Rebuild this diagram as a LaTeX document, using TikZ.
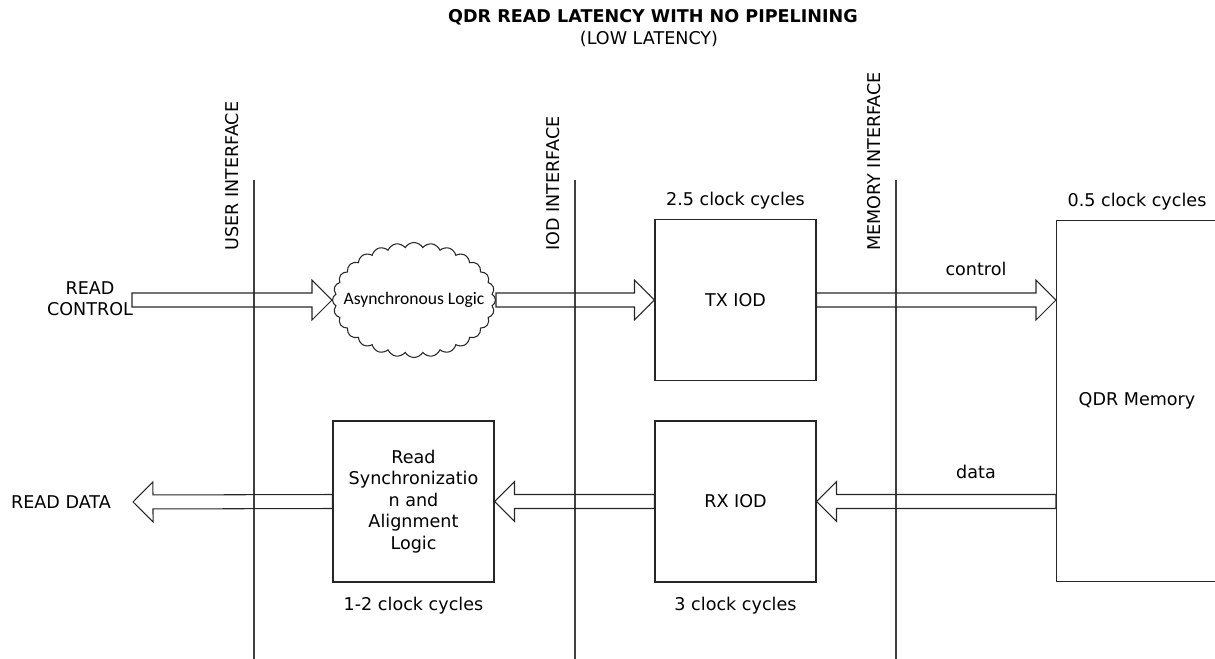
\documentclass[tikz,border=0pt]{standalone}
\usepackage{fontspec}
\setmainfont{DejaVu Sans}
\newfontfamily\cloudfont{Carlito}
\usetikzlibrary{positioning,calc,shapes.symbols}
\tikzset{fat/.style={draw=black!85,line width=0.6pt,line join=miter}}
\newcommand{\fatarr}[2]{%
  \coordinate (hb) at ($(#2)!0.4cm!(#1)$);
  \draw[fat] ($(#1)!0.14cm!90:(#2)$) -- ($(hb)!0.14cm!90:(#2)$) -- ($(hb)!0.4cm!90:(#2)$) -- (#2)
    -- ($(hb)!0.4cm!-90:(#2)$) -- ($(hb)!0.14cm!-90:(#2)$) -- ($(#1)!0.14cm!-90:(#2)$) -- cycle;}

\begin{document}
\begin{tikzpicture}[x=0.02cm,y=-0.02cm,font=\fontsize{10}{12.2}\selectfont]
\tikzstyle{blk}=[draw=black!85,line width=0.6pt,minimum width=3.22cm,minimum height=3.22cm,align=center,inner sep=2pt]
\tikzstyle{side}=[draw=black!75,line width=0.8pt]
\tikzstyle{iface}=[rotate=90,anchor=west,inner sep=0pt]
\tikzstyle{cld}=[cloud,draw=black!85,line width=0.6pt,cloud puffs=28,cloud puff arc=120,cloud ignores aspect,minimum width=3.26cm,minimum height=2.3cm,inner xsep=-0.35cm,inner ysep=0pt]

   \useasboundingbox (0,0) rectangle (1215,659);

   % title
   \node[font=\fontsize{10}{12}\selectfont\bfseries] (T) at (653,17) {QDR READ LATENCY WITH NO PIPELINING};
   \node (T2) at (649,39) {(LOW LATENCY)};

   % interfaces
   \foreach \x/\n/\t in {254/U/USER INTERFACE,575/I/IOD INTERFACE,896/M/MEMORY INTERFACE}{
     \coordinate (\n1) at (\x,180);
     \coordinate (\n2) at (\x,659);
     \draw[side] (\n1) -- (\n2);
     \node[iface] (\n L) at (\x-22,251) {\t};
   }

   % blocks
   \path (90,299) node[align=center] (RC) {READ\\CONTROL}
         (414,300) node[cld] (AL) {\cloudfont\fontsize{10}{12}\selectfont Asynchronous Logic}
         (735.5,300) node[blk] (TX) {TX IOD}
         (1137,401) node[blk,minimum height=7.24cm] (QDR) {QDR Memory}
         (735.5,501.5) node[blk] (RX) {RX IOD}
         (413.5,501.5) node[blk] (SY) {Read\\Synchronizatio\\n and\\Alignment\\Logic}
         (61,502) node (RD) {READ DATA};

   \node[above=2pt of TX] (TXc) {2.5 clock cycles};
   \node[above=2pt of QDR] (QDRc) {0.5 clock cycles};
   \node[below=5pt of RX] (RXc) {3 clock cycles};
   \node[below=5pt of SY] (SYc) {1-2 clock cycles};
   \node (CT) at (976,269) {control};
   \node (DT) at (976,472) {data};

   \coordinate (RCin) at (132,300);
   \coordinate (RDout) at (133,502);
   \coordinate (Qin) at (QDR.west |- TX.east);
   \coordinate (Qout) at (QDR.west |- RX.east);

   % arrows
   \fatarr{RCin}{AL.west}
   \fatarr{AL.east}{TX.west}
   \fatarr{TX.east}{Qin}
   \fatarr{Qout}{RX.east}
   \fatarr{RX.west}{SY.east}
   \fatarr{SY.west}{RDout}
\end{tikzpicture}
\end{document}
